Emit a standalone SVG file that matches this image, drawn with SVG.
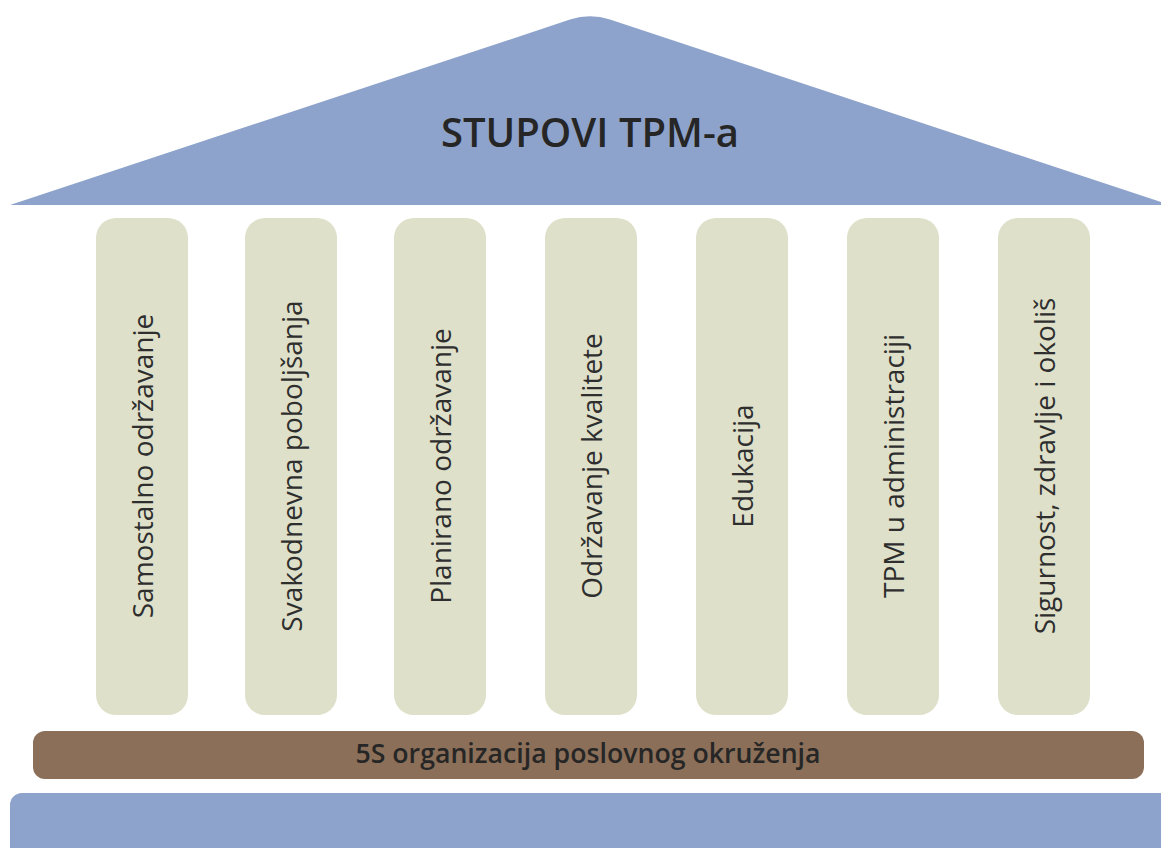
<svg xmlns="http://www.w3.org/2000/svg" width="1161" height="848" viewBox="0 0 1161 848">
<style>
.roof{fill:#8EA3CB}
.pillar{fill:#DEE0C9}
.bar{fill:#8B6F58}
.t{font-family:"Open Sans","Liberation Sans",sans-serif;fill:#262626}
.title{font-size:40px;font-weight:600;text-anchor:middle}
.pt{font-size:28px;text-anchor:middle;fill:#2e2e2e}
.bt{font-size:26.7px;font-weight:600;text-anchor:middle}
</style>
<rect width="1161" height="848" fill="#ffffff"/>
<g id="roof">
<path class="roof" d="M10,205 L570,19.6 Q590,13 610,19.6 L1170,205 Z"/>
<text class="t title" x="590" y="147">STUPOVI TPM-a</text>
</g>
<g id="pillar1"><rect class="pillar" x="96" y="218" width="92" height="497" rx="20"/><text class="t pt" transform="translate(153,466) rotate(-90)">Samostalno održavanje</text></g>
<g id="pillar2"><rect class="pillar" x="245" y="218" width="92" height="497" rx="20"/><text class="t pt" transform="translate(302,466) rotate(-90)">Svakodnevna poboljšanja</text></g>
<g id="pillar3"><rect class="pillar" x="394" y="218" width="92" height="497" rx="20"/><text class="t pt" transform="translate(451,466) rotate(-90)">Planirano održavanje</text></g>
<g id="pillar4"><rect class="pillar" x="545" y="218" width="92" height="497" rx="20"/><text class="t pt" transform="translate(602,466) rotate(-90)">Održavanje kvalitete</text></g>
<g id="pillar5"><rect class="pillar" x="696" y="218" width="92" height="497" rx="20"/><text class="t pt" transform="translate(753,466) rotate(-90)">Edukacija</text></g>
<g id="pillar6"><rect class="pillar" x="847" y="218" width="92" height="497" rx="20"/><text class="t pt" transform="translate(904,466) rotate(-90)">TPM u administraciji</text></g>
<g id="pillar7"><rect class="pillar" x="998" y="218" width="92" height="497" rx="20"/><text class="t pt" transform="translate(1055,466) rotate(-90)">Sigurnost, zdravlje i okoliš</text></g>
<g id="foundation">
<rect class="bar" x="33" y="731" width="1111" height="48" rx="12"/>
<text class="t bt" x="588" y="763">5S organizacija poslovnog okruženja</text>
</g>
<g id="base"><rect class="roof" x="10" y="793" width="1200" height="100" rx="12"/></g>
<g id="connectors"></g>
</svg>
